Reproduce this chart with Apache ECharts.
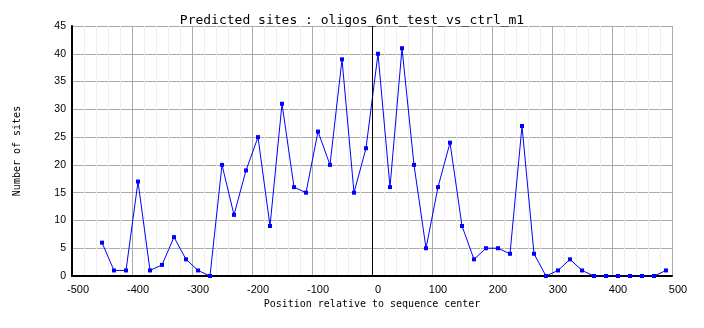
<!DOCTYPE html>
<html>
<head>
<meta charset="utf-8">
<script src="https://cdn.jsdelivr.net/npm/echarts@6/dist/echarts.min.js"></script>
<style>
  html, body { margin: 0; padding: 0; background: #ffffff; }
  #chart { width: 704px; height: 328px; }
</style>
</head>
<body>
<div id="chart"></div>
<script>
// Window centres (bp relative to sequence centre) and site counts per window
const positions = [
  -450, -430, -410, -390, -370, -350, -330, -310, -290, -270,
  -250, -230, -210, -190, -170, -150, -130, -110, -90, -70,
  -50, -30, -10, 10, 30, 50, 70, 90, 110, 130,
  150, 170, 190, 210, 230, 250, 270, 290, 310, 330,
  350, 370, 390, 410, 430, 450, 470, 490
];
const siteCounts = [
  6, 1, 1, 17, 1, 2, 7, 3, 1, 0,
  20, 11, 19, 25, 9, 31, 16, 15, 26, 20,
  39, 15, 23, 40, 16, 41, 20, 5, 16, 24,
  9, 3, 5, 5, 4, 27, 4, 0, 1, 3,
  1, 0, 0, 0, 0, 0, 0, 1
];
const chartTitle = 'Predicted sites : oligos_6nt_test_vs_ctrl_m1';
const xName = 'Position relative to sequence center';
const yName = 'Number of sites';

const mono = 'DejaVu Sans Mono';
const tickFont = 'Liberation Sans';

const chart = echarts.init(document.getElementById('chart'), null, { renderer: 'canvas' });

chart.setOption({
  backgroundColor: '#ffffff',
  animation: false,
  title: {
    text: chartTitle,
    left: 'center',
    top: 9,
    textStyle: { fontFamily: mono, fontSize: 13, fontWeight: 'normal', color: '#000000' }
  },
  grid: { left: 72, right: 32, top: 26, bottom: 52, containLabel: false },
  xAxis: {
    type: 'value',
    min: -500,
    max: 500,
    interval: 100,
    name: xName,
    nameLocation: 'middle',
    nameGap: 22,
    nameTextStyle: { fontFamily: mono, fontSize: 10, color: '#000000' },
    axisLine: { show: true, onZero: false, lineStyle: { color: '#000000', width: 2 } },
    axisTick: { show: false },
    axisLabel: {
      fontFamily: tickFont, fontSize: 11, color: '#000000', margin: 8,
      padding: [0, 0, 0, 12]
    },
    splitLine: { show: true, lineStyle: { color: '#aaaaaa', width: 1 } },
    minorTick: { show: false, splitNumber: 5 },
    minorSplitLine: { show: true, lineStyle: { color: '#eeeeee', width: 1 } }
  },
  yAxis: {
    type: 'value',
    min: 0,
    max: 45,
    interval: 5,
    name: yName,
    nameLocation: 'middle',
    nameGap: 50,
    nameRotate: 90,
    nameTextStyle: { fontFamily: mono, fontSize: 10, color: '#000000' },
    axisLine: { show: true, onZero: false, lineStyle: { color: '#000000', width: 2 } },
    axisTick: { show: false },
    axisLabel: { fontFamily: tickFont, fontSize: 10.5, color: '#000000', margin: 6 },
    splitLine: { show: true, lineStyle: { color: '#aaaaaa', width: 1 } }
  },
  series: [{
    type: 'line',
    data: positions.map((p, i) => [p, siteCounts[i]]),
    symbol: 'rect',
    symbolSize: 4,
    showSymbol: true,
    lineStyle: { color: '#0000ff', width: 1 },
    itemStyle: { color: '#0000ff' },
    markLine: {
      silent: true,
      symbol: 'none',
      label: { show: false },
      lineStyle: { color: '#000000', width: 1, type: 'solid' },
      data: [{ xAxis: 0 }]
    }
  }]
});
</script>
</body>
</html>
